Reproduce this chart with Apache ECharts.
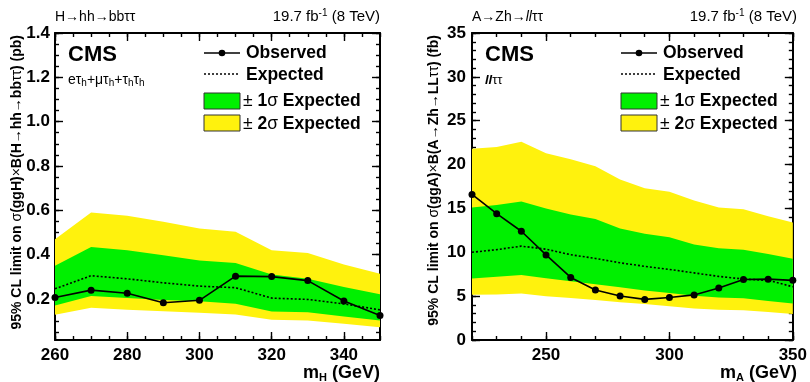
<!DOCTYPE html>
<html><head><meta charset="utf-8">
<script src="https://cdn.jsdelivr.net/npm/echarts@6/dist/echarts.min.js"></script>
<style>html,body{margin:0;padding:0;background:#fff}#c{width:810px;height:382px}</style>
</head><body><div id="c"></div>
<script>
// ---------- Left panel: H -> hh -> bb tau tau (pb) ----------
const massH = [260, 270, 280, 290, 300, 310, 320, 330, 340, 350];
const obsH  = [0.207, 0.240, 0.226, 0.183, 0.194, 0.303, 0.301, 0.283, 0.191, 0.126];
const expH  = [0.246, 0.305, 0.291, 0.273, 0.258, 0.251, 0.204, 0.198, 0.178, 0.151];
const m1sH  = [0.171, 0.213, 0.205, 0.196, 0.190, 0.178, 0.144, 0.140, 0.121, 0.103];
const p1sH  = [0.350, 0.435, 0.420, 0.397, 0.374, 0.362, 0.311, 0.291, 0.254, 0.221];
const m2sH  = [0.129, 0.160, 0.151, 0.145, 0.138, 0.130, 0.106, 0.103, 0.088, 0.073];
const p2sH  = [0.469, 0.590, 0.575, 0.548, 0.518, 0.503, 0.420, 0.408, 0.356, 0.314];

// ---------- Right panel: A -> Zh -> ll tau tau (fb) ----------
const massA = [220, 230, 240, 250, 260, 270, 280, 290, 300, 310, 320, 330, 340, 350];
const obsA  = [16.6, 14.4, 12.4, 9.7, 7.13, 5.70, 5.01, 4.63, 4.85, 5.14, 5.93, 6.90, 6.94, 6.80];
const expA  = [10.0, 10.3, 10.7, 10.35, 9.72, 9.3, 8.8, 8.4, 8.05, 7.65, 7.25, 6.95, 6.8, 6.07];
const m1sA  = [7.0, 7.2, 7.4, 7.05, 6.7, 6.35, 6.0, 5.65, 5.35, 5.05, 4.85, 4.75, 4.45, 4.15];
const p1sA  = [15.1, 15.4, 15.8, 15.0, 14.3, 13.8, 12.7, 12.1, 11.7, 10.9, 10.45, 10.3, 9.8, 9.25];
const m2sA  = [5.15, 5.2, 5.3, 5.0, 4.8, 4.55, 4.3, 4.1, 3.85, 3.6, 3.45, 3.4, 3.2, 2.95];
const p2sA  = [21.8, 22.0, 22.6, 21.3, 20.6, 19.8, 18.3, 17.3, 16.9, 15.9, 15.1, 14.9, 14.1, 13.4];

// ---------- tick labels ----------
const xLabelsH = [260, 280, 300, 320, 340];
const yLabelsH = [0.2, 0.4, 0.6, 0.8, 1.0, 1.2, 1.4];
const xLabelsA = [250, 300, 350];
const yLabelsA = [0, 5, 10, 15, 20, 25, 30, 35];

const FF = '"Liberation Sans", Arial, Helvetica, sans-serif';
const GREEN = '#00f000';
const YELLOW = '#fff20d';

function steps(a, b, s) { const r = []; for (let v = a; v <= b + 1e-9; v += s) r.push(+v.toFixed(4)); return r; }

const G = [
  { left: 55, top: 33, width: 325, height: 307 },
  { left: 472, top: 33, width: 325, height: 307 }
];

function axisGroup(gi, dir, min, max, major, minor, labels, fmt, margin) {
  const isX = dir === 'x';
  const posA = isX ? 'bottom' : 'left', posB = isX ? 'top' : 'right';
  const base = { type: 'value', gridIndex: gi, min: min, max: max, splitLine: { show: false }, minorTick: { show: false }, minorSplitLine: { show: false } };
  const line = { show: true, onZero: false, lineStyle: { color: '#000', width: 2 } };
  const noline = { show: false, onZero: false };
  const mk = (pos, showLine, vals, len, lab) => Object.assign({}, base, {
    position: pos,
    axisLine: showLine ? line : noline,
    axisTick: { show: true, inside: true, length: len, customValues: vals, lineStyle: { color: '#000', width: 1.4 } },
    axisLabel: lab ? { show: true, customValues: labels, formatter: fmt, color: '#000', fontFamily: FF, fontWeight: 'bold', fontSize: 17, margin: margin } : { show: false }
  });
  return [mk(posA, true, major, 8, true), mk(posA, false, minor, 4, false), mk(posB, true, major, 8, false), mk(posB, false, minor, 4, false)];
}

const xAxes = [].concat(
  axisGroup(0, 'x', 260, 350, xLabelsH, steps(260, 350, 5), xLabelsH, v => String(Math.round(v)), 7),
  axisGroup(1, 'x', 220, 350, xLabelsA, steps(220, 350, 10), xLabelsA, v => String(Math.round(v)), 7)
);
const yAxes = [].concat(
  axisGroup(0, 'y', 0.015, 1.4, yLabelsH, steps(0.05, 1.4, 0.05), yLabelsH, v => (+v).toFixed(1), 5),
  axisGroup(1, 'y', 0, 35, yLabelsA, steps(0, 35, 1), yLabelsA, v => String(Math.round(v)), 6)
);

function band(gi, xs, lo, hi, color, z) {
  return {
    type: 'custom', xAxisIndex: gi * 4, yAxisIndex: gi * 4, z: z, silent: true,
    data: xs.map((x, i) => [x, lo[i], hi[i]]),
    encode: { x: 0, y: [1, 2] },
    renderItem: function (params, api) {
      if (params.dataIndex !== 0) return;
      const pts = [];
      for (let i = 0; i < xs.length; i++) pts.push(api.coord([xs[i], hi[i]]));
      for (let i = xs.length - 1; i >= 0; i--) pts.push(api.coord([xs[i], lo[i]]));
      return { type: 'polygon', shape: { points: pts }, style: { fill: color, stroke: null } };
    }
  };
}
function obsLine(gi, xs, ys) {
  return { type: 'line', xAxisIndex: gi * 4, yAxisIndex: gi * 4, z: 5, silent: true, animation: false,
    data: xs.map((x, i) => [x, ys[i]]), symbol: 'circle', symbolSize: 7, showSymbol: true,
    itemStyle: { color: '#000' }, lineStyle: { color: '#000', width: 1.6 } };
}
function expLine(gi, xs, ys) {
  return { type: 'line', xAxisIndex: gi * 4, yAxisIndex: gi * 4, z: 4, silent: true, animation: false,
    data: xs.map((x, i) => [x, ys[i]]), symbol: 'none', showSymbol: false,
    lineStyle: { color: '#000', width: 1.6, type: [2, 2] } };
}

const series = [
  band(0, massH, m2sH, p2sH, YELLOW, 1), band(0, massH, m1sH, p1sH, GREEN, 2),
  expLine(0, massH, expH), obsLine(0, massH, obsH),
  band(1, massA, m2sA, p2sA, YELLOW, 1), band(1, massA, m1sA, p1sA, GREEN, 2),
  expLine(1, massA, expA), obsLine(1, massA, obsA)
];

const B = (s) => Object.assign({ fontFamily: FF, fill: '#000' }, s);
function T(x, y, text, rich, extra) {
  return Object.assign({ type: 'text', x: x, y: y, z: 100, style: Object.assign({ text: text, rich: rich, verticalAlign: 'middle', align: 'left', fontFamily: FF, fill: '#000' }, (extra && extra.style) || {}) }, extra && extra.el || {});
}

const graphics = [];
function panelDecor(gi, head, headRich, sub, subRich, yTitle, yTitleRich, yTitleX, xTitle, xTitleRich) {
  const L = G[gi].left, R = G[gi].left + G[gi].width;
  graphics.push(T(L, 17, head, headRich));
  graphics.push(T(R, 17, '{t|19.7 fb}{s|-1}{t| (8 TeV)}', {
    t: B({ fontSize: 15 }), s: B({ fontSize: 10, padding: [0, 0, 8, 0] })
  }, { style: { align: 'right' } }));
  graphics.push(T(L + 13, 55, '{c|CMS}', { c: B({ fontSize: 22, fontWeight: 'bold' }) }));
  graphics.push(T(L + 13, 80, sub, subRich));
  // legend
  const lx = L + 149, lw = 36, tx = L + 191;
  graphics.push({ type: 'line', z: 100, shape: { x1: lx, y1: 53, x2: lx + lw, y2: 53 }, style: { stroke: '#000', lineWidth: 1.6 } });
  graphics.push({ type: 'circle', z: 101, shape: { cx: lx + lw / 2, cy: 53, r: 3.3 }, style: { fill: '#000' } });
  graphics.push({ type: 'line', z: 100, shape: { x1: lx, y1: 74, x2: lx + lw, y2: 74 }, style: { stroke: '#000', lineWidth: 1.6, lineDash: [2, 2] } });
  graphics.push({ type: 'rect', z: 100, shape: { x: lx, y: 93, width: lw, height: 16 }, style: { fill: GREEN, stroke: '#333', lineWidth: 1 } });
  graphics.push({ type: 'rect', z: 100, shape: { x: lx, y: 115, width: lw, height: 16 }, style: { fill: YELLOW, stroke: '#333', lineWidth: 1 } });
  const lb = B({ fontSize: 17.5, fontWeight: 'bold' }), ln = B({ fontSize: 17.5 });
  graphics.push(T(tx, 53, '{b|Observed}', { b: lb }));
  graphics.push(T(tx, 75, '{b|Expected}', { b: lb }));
  graphics.push(T(tx - 3, 101, '{n|± }{b|1}{n|σ }{b|Expected}', { b: lb, n: ln }));
  graphics.push(T(tx - 3, 124, '{n|± }{b|2}{n|σ }{b|Expected}', { b: lb, n: ln }));
  // axis titles
  graphics.push(T(yTitleX, G[gi].top + 2, yTitle, yTitleRich, { style: { align: 'right' }, el: { rotation: Math.PI / 2 } }));
  graphics.push(T(R, 373, xTitle, xTitleRich, { style: { align: 'right' } }));
}

const yb = B({ fontSize: 14, fontWeight: 'bold' }), yn = B({ fontSize: 14 });
const xb = B({ fontSize: 18, fontWeight: 'bold' }), xs = B({ fontSize: 11, fontWeight: 'bold', padding: [9, 0, 0, 0] });
panelDecor(0,
  '{t|H→hh→bbττ}', { t: B({ fontSize: 14 }) },
  '{t|eτ}{s|h}{t|+μτ}{s|h}{t|+τ}{s|h}{t|τ}{s|h}', { t: B({ fontSize: 14 }), s: B({ fontSize: 10, padding: [7, 0, 0, 0] }) },
  '{b|95% CL limit on }{n|σ}{b|(ggH)}{n|×}{b|B(H}{n|→}{b|hh}{n|→}{b|bb}{n|ττ}{b|) (pb)}', { b: yb, n: yn }, 17,
  '{b|m}{s|H}{b| (GeV)}', { b: xb, s: xs }
);
panelDecor(1,
  '{t|A→Zh→}{i|ll}{t|ττ}', { t: B({ fontSize: 14 }), i: B({ fontSize: 14, fontStyle: 'italic' }) },
  '{i|ll}{t|ττ}', { t: B({ fontSize: 13 }), i: B({ fontSize: 13, fontStyle: 'italic', fontWeight: 'bold' }) },
  '{b|95% CL limit on }{n|σ}{b|(ggA)}{n|×}{b|B(A}{n|→}{b|Zh}{n|→}{b|LL}{n|ττ}{b|) (fb)}', { b: yb, n: yn }, 434,
  '{b|m}{s|A}{b| (GeV)}', { b: xb, s: xs }
);

const chart = echarts.init(document.getElementById('c'), null, { renderer: 'canvas' });
chart.setOption({
  animation: false,
  backgroundColor: '#fff',
  grid: G,
  xAxis: xAxes,
  yAxis: yAxes,
  series: series,
  graphic: graphics
});
</script></body></html>
